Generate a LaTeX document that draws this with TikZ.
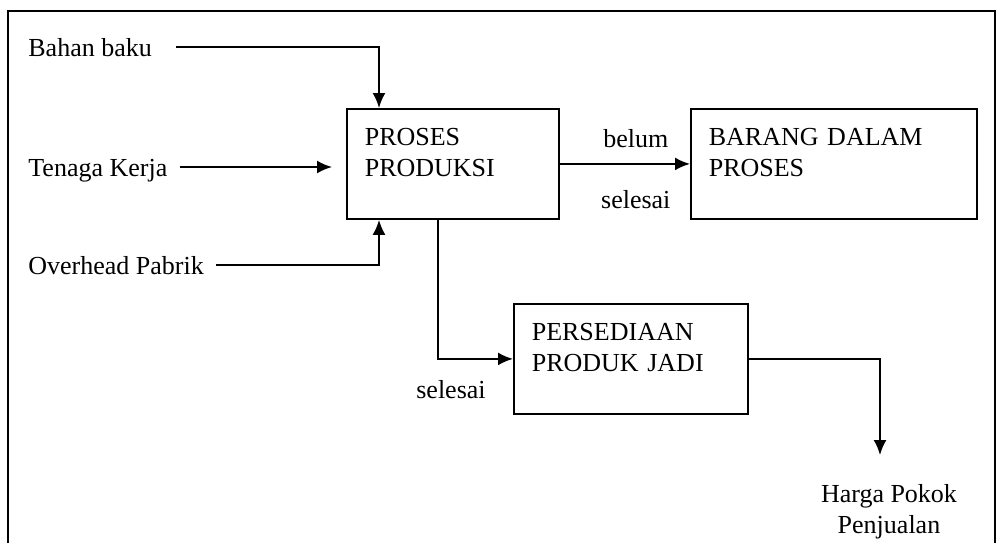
\documentclass[tikz,border=0pt]{standalone}
\usepackage{fontspec}
\setmainfont{Liberation Serif}
\usetikzlibrary{positioning, arrows.meta}

\begin{document}
\begin{tikzpicture}
    [x=0.5pt, y=-0.5pt,
    every node/.style = {font=\fontsize{13}{15.5}\selectfont},
    box/.style = {rectangle, draw, line width=0.8pt, align=left, anchor=north west,
            inner xsep=9pt, inner ysep=9.5pt,
            execute at end node={\rule[-12pt]{0pt}{12pt}}},
    src/.style = {anchor=west, inner xsep=6pt, inner ysep=0pt, text height=9pt, text depth=0pt},
    flow/.style = {line width=1pt, -{Latex[length=7.5pt, width=6.5pt]}},
    ]
    \useasboundingbox (0,0) rectangle (996,543);
    % frame, open at the bottom
    \draw[line width=1pt] (8,543) -- (8,11) -- (995,11) -- (995,543);

	\node[box, text width=88pt] (proses) at (346,108) {PROSES\\PRODUKSI};
	\node[box, text width=125pt] (barang) at (690,108) {BARANG DALAM\\PROSES};
	\node[box, text width=99pt] (persediaan) at (513,303) {PERSEDIAAN\\PRODUK JADI};

	\node[src] (bahan) at (16,47) {Bahan baku};
	\node[src] (tenaga) at (16,167) {Tenaga Kerja};
	\node[src] (overhead) at (16,265) {Overhead Pabrik};

	\node[align=center, anchor=north, inner sep=0pt] (hpp) at (889,484) {Harga Pokok\\Penjualan};

    \draw[flow] ([xshift=6pt]bahan.east) -| ([xshift=16.5pt]proses.north west);
    \draw[flow, shorten >=7pt] (tenaga.east) -- (tenaga.east -| proses.west);
    \draw[flow] (overhead.east) -| ([xshift=16.5pt]proses.south west);

    \draw[flow] (proses.east) -- (barang.west)
        node[pos=0.5, anchor=base, xshift=5.5pt, yshift=8pt] (belum) {belum}
        node[pos=0.5, anchor=base, xshift=5.5pt, yshift=-22.5pt] (selesai1) {selesai};
    \draw[flow] ([xshift=46pt]proses.south west) |- (persediaan.west)
        node[pos=0.5, anchor=base, xshift=6.5pt, yshift=-20pt] (selesai2) {selesai};
    \draw[flow, shorten >=14.5pt] (persediaan.east) -| ([xshift=-4.5pt]hpp.north);
\end{tikzpicture}
\end{document}
